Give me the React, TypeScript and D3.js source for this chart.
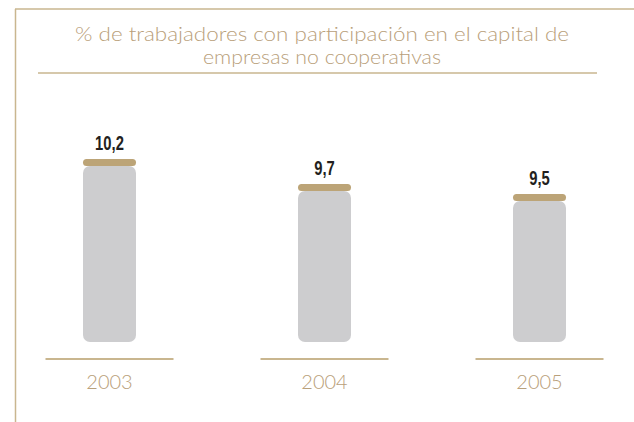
import React from 'react';
import * as d3 from 'd3';

const years = ['2003', '2004', '2005'];
const values = [10.2, 9.7, 9.5];
const valueLabels = ['10,2', '9,7', '9,5'];
const titleLines = [
  '% de trabajadores con participación en el capital de',
  'empresas no cooperativas',
];
const titleWidths = [494, 238];

const tan = '#c9b68f';
const tanText = '#b9a07a';
const capColor = '#bca477';
const barColor = '#cdcdcf';

export default function App() {
  const width = 634;
  const height = 422;

  const x = d3.scaleBand<string>().domain(years).range([2, 647]).padding(0);
  // truncated value axis, as in the original picture
  const y = d3.scaleLinear().domain([6.6, 10.2]).range([342, 162]);

  const barW = 53;
  const lineW = 128;
  const capH = 7;

  const roundTop = (x0: number, y0: number, w: number, h: number, r: number) => {
    const p = d3.path();
    p.moveTo(x0, y0 + r);
    p.arcTo(x0, y0, x0 + r, y0, r);
    p.lineTo(x0 + w - r, y0);
    p.arcTo(x0 + w, y0, x0 + w, y0 + r, r);
    p.lineTo(x0 + w, y0 + h - r);
    p.arcTo(x0 + w, y0 + h, x0 + w - r, y0 + h, r);
    p.lineTo(x0 + r, y0 + h);
    p.arcTo(x0, y0 + h, x0, y0 + h - r, r);
    p.closePath();
    return p.toString();
  };

  return (
    <svg width={width} height={height} style={{ position: 'absolute', left: 0, top: 0, background: '#fff' }}>
      {/* frame */}
      <line x1={15.5} y1={9} x2={15.5} y2={height} stroke={tan} strokeWidth={1.5} />
      <line x1={15} y1={9} x2={width} y2={9} stroke={tan} strokeWidth={1.5} />

      {/* title */}
      <g fontFamily="Lato, 'Open Sans', sans-serif" fontWeight={300} fontSize={20} fill={tanText} textAnchor="middle">
        {titleLines.map((t, i) => (
          <text key={i} x={322} y={41 + i * 23} textLength={titleWidths[i]} lengthAdjust="spacingAndGlyphs">{t}</text>
        ))}
      </g>
      <line x1={38} y1={73} x2={597} y2={73} stroke={tan} strokeWidth={1.5} />

      {years.map((yr, i) => {
        const cx = (x(yr) as number) + x.bandwidth() / 2;
        const top = y(values[i]);
        const bottom = y(6.6);
        return (
          <g key={yr}>
            <path d={roundTop(cx - barW / 2, top + 4, barW, bottom - top - 4, 7)} fill={barColor} />
            <rect x={cx - barW / 2} y={top - 3} width={barW} height={capH} rx={3.5} fill={capColor} />
            <text
              transform={`translate(${cx},${top - 12}) scale(0.74,1)`}
              textAnchor="middle"
              fontFamily="'Liberation Sans', Arial, sans-serif"
              fontWeight="bold"
              fontSize={20}
              fill="#231f20"
            >
              {valueLabels[i]}
            </text>
            <line x1={cx - lineW / 2} y1={359} x2={cx + lineW / 2} y2={359} stroke={tan} strokeWidth={2} />
            <text
              x={cx}
              y={389}
              textAnchor="middle"
              fontFamily="Lato, 'Open Sans', sans-serif"
              fontWeight={300}
              fontSize={20}
              fill={tanText}
            >
              {yr}
            </text>
          </g>
        );
      })}
    </svg>
  );
}
